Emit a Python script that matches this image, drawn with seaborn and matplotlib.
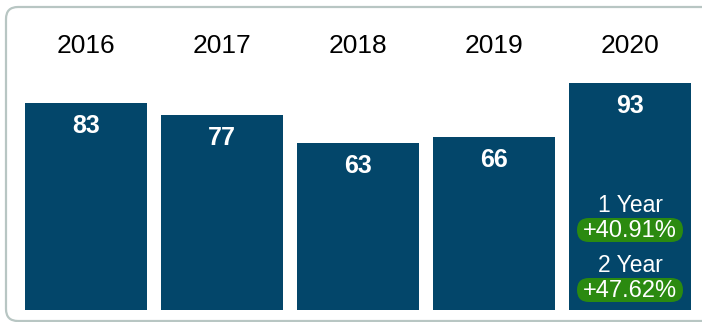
import matplotlib
matplotlib.use("Agg")
import matplotlib.pyplot as plt
from matplotlib.patches import FancyBboxPatch
from matplotlib.transforms import IdentityTransform
import seaborn as sns
import pandas as pd

years = ["2016", "2017", "2018", "2019", "2020"]
values = [83, 77, 63, 66, 93]
change_labels = ["1 Year", "2 Year"]
change_values = ["+40.91%", "+47.62%"]

BAR = "#03466a"
GREEN = "#2b8a10"
BORDER = "#b8c6c3"

sns.set_theme(style="white")
plt.rcParams["font.family"] = ["Liberation Sans", "DejaVu Sans"]

W, H = 702, 322
fig = plt.figure(figsize=(W / 100, H / 100), dpi=100)
fig.patch.set_facecolor("white")

# card outline
fig.patches.append(FancyBboxPatch((6, 1), 720, 314,
                                  boxstyle="round,pad=0,rounding_size=12",
                                  transform=IdentityTransform(), fc="none",
                                  ec=BORDER, lw=1.6))

ax = fig.add_axes([18 / W, 12 / H, 680 / W, 300 / H])
df = pd.DataFrame({"year": years, "value": values})
sns.barplot(data=df, x="year", y="value", color=BAR, saturation=1,
            width=0.897, linewidth=0, ax=ax)
ax.set_ylim(-20.5, 129.5)
ax.set_xlim(-0.5, 4.5)
ax.axis("off")

# the bars start below zero so their heights keep the plotted scale
for p, v in zip(ax.patches, values):
    p.set_y(-20.5)
    p.set_height(v + 20.5)

for i, (y, v) in enumerate(zip(years, values)):
    ax.text(i, 111.5, y, ha="center", va="center", fontsize=19, color="black")
    ax.text(i, v - 11.5, str(v), ha="center", va="center", fontsize=18,
            fontweight="bold", color="white")

fig.canvas.draw()
last = len(years) - 1
label_y = [32.0, 2.0]
pill_y = [19.5, -10.5]
for lab, val, ly, py in zip(change_labels, change_values, label_y, pill_y):
    ax.text(last, ly, lab, ha="center", va="center", fontsize=16.5, color="white")
    cx, cy = ax.transData.transform((last, py))
    pill = FancyBboxPatch((cx - 53, cy - 12), 106, 24,
                          boxstyle="round,pad=0,rounding_size=12",
                          transform=IdentityTransform(),
                          fc=GREEN, ec="none", zorder=5, clip_on=False)
    ax.add_artist(pill)
    ax.text(last, py - 0.5, val, ha="center", va="center", fontsize=17,
            color="white", zorder=6)

fig.savefig("out.png", dpi=100)
